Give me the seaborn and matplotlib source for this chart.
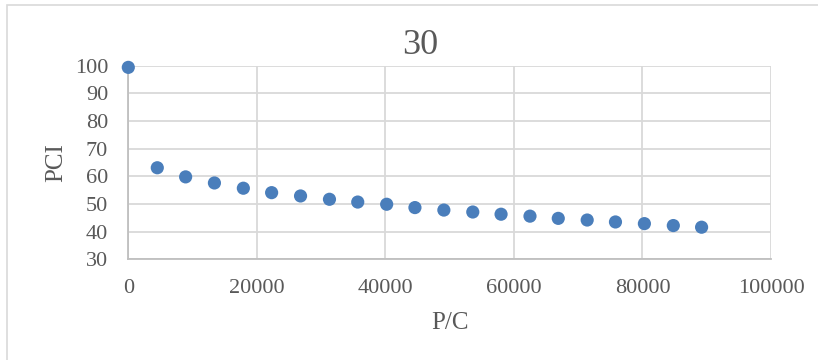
import matplotlib
matplotlib.use("Agg")
import matplotlib.pyplot as plt
import seaborn as sns
import pandas as pd
from matplotlib.patches import Rectangle

title = "30"
x_label = "P/C"
y_label = "PCI"
pc = [0, 4510, 8920, 13400, 17900, 22300, 26800, 31300, 35700, 40200, 44600,
      49100, 53600, 58000, 62500, 66900, 71400, 75800, 80300, 84800, 89200]
pci = [99.4, 63.1, 59.8, 57.6, 55.7, 54.1, 52.9, 51.7, 50.7, 49.9, 48.7,
       47.8, 47.1, 46.3, 45.6, 44.8, 44.2, 43.5, 42.9, 42.2, 41.6]
x_ticks = [0, 20000, 40000, 60000, 80000, 100000]
y_ticks = [30, 40, 50, 60, 70, 80, 90, 100]

df = pd.DataFrame({"P/C": pc, "PCI": pci})

sns.set_style("white")
plt.rcParams["font.family"] = ["Liberation Serif", "DejaVu Serif"]

text_color = "#595959"
grid_color = "#d9d9d9"
W, H = 818, 360
fig = plt.figure(figsize=(W / 100, H / 100), dpi=100)

# outer chart border
fig.patches.append(Rectangle((7 / W, -0.1), 1.2, 1 - 5 / H + 0.1, transform=fig.transFigure,
                             fill=False, edgecolor="#d9d9d9", linewidth=1.2, zorder=0))

left, right, top, bottom = 128.3, 771, 65.7, 259.3
ax = fig.add_axes([left / W, 1 - bottom / H, (right - left) / W, (bottom - top) / H])

sns.scatterplot(data=df, x="P/C", y="PCI", ax=ax, color="#4a7ebb", s=90,
                edgecolor="none", zorder=3, clip_on=False)

ax.set_xlim(0, 100000)
ax.set_ylim(30, 100)
ax.set_xticks(x_ticks)
ax.set_yticks(y_ticks)
ax.set_xticklabels([str(v) for v in x_ticks])
ax.set_yticklabels([str(v) for v in y_ticks])
ax.grid(True, color=grid_color, linewidth=1.3)
ax.set_axisbelow(True)
for side in ["top", "right"]:
    ax.spines[side].set_visible(False)
for side in ["left", "bottom"]:
    ax.spines[side].set_color("#bfbfbf")
    ax.spines[side].set_linewidth(1.3)
ax.tick_params(axis="both", length=0, labelsize=16, colors=text_color)
ax.tick_params(axis="y", pad=14.5)
ax.tick_params(axis="x", pad=14)

ax.set_xlabel(x_label, fontsize=18, color=text_color, labelpad=10.5)
ax.set_ylabel(y_label, fontsize=18, color=text_color, labelpad=5.5)

fig.text(420 / W, 1 - 46 / H, title, fontsize=26, color=text_color,
         ha="center", va="center")

fig.savefig("out.png", dpi=100)
